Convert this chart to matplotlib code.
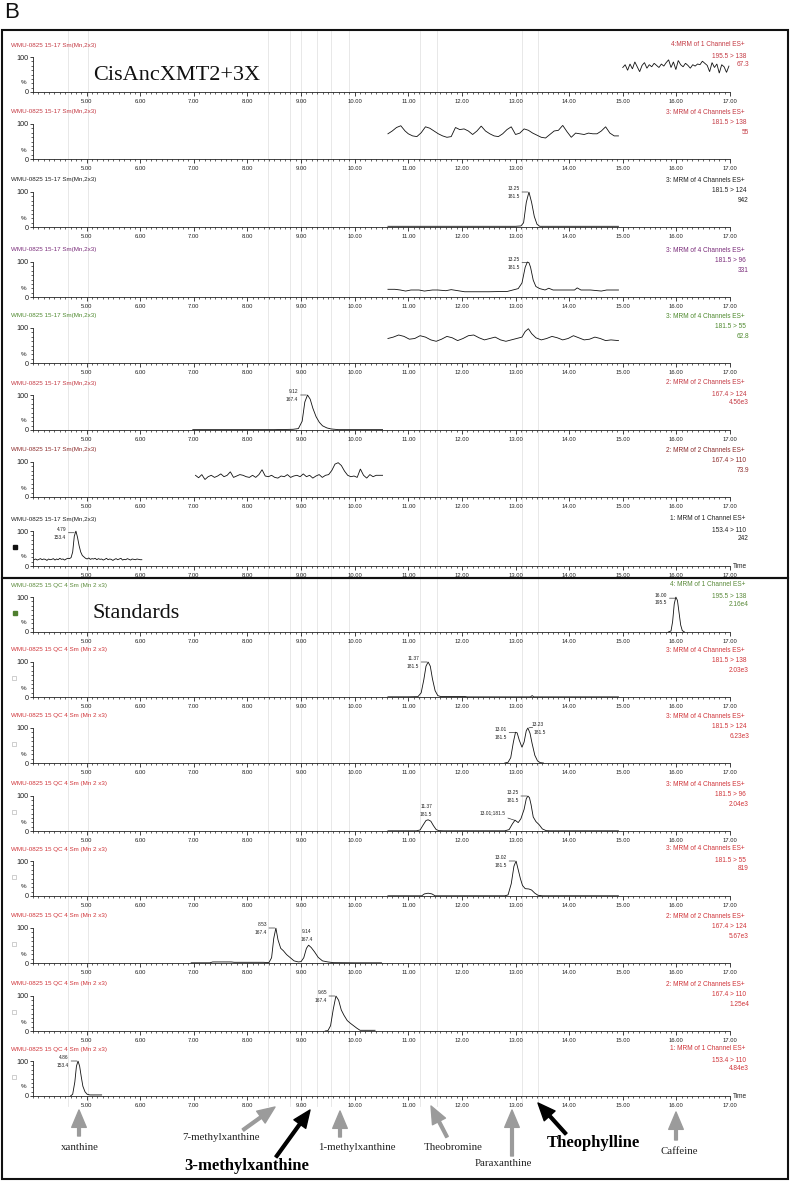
import numpy as np
import matplotlib
matplotlib.use("Agg")
import matplotlib.pyplot as plt
from matplotlib.patches import Rectangle
from matplotlib.transforms import blended_transform_factory
from matplotlib.ticker import FixedLocator, MultipleLocator

plt.rcParams['font.family'] = ['Liberation Sans', 'DejaVu Sans']

# ---------------------------------------------------------------- data
TIME_RANGE = (4.0, 17.0)
MAJOR_TIMES = [5, 6, 7, 8, 9, 10, 11, 12, 13, 14, 15, 16, 17]
MAJOR_LABELS = ['5.00', '6.00', '7.00', '8.00', '9.00', '10.00', '11.00',
                '12.00', '13.00', '14.00', '15.00', '16.00', '17.00']
GUIDE_TIMES = [4.65, 5.03, 8.38, 8.79, 9.00, 9.30, 9.56, 9.90, 11.22, 11.54, 13.12, 13.42]

TOP_HEADER = 'WMU-0825 15-17 Sm(Mn,2x3)'
BOT_HEADER = 'WMU-0825 15 QC 4 Sm (Mn 2 x3)'
TOP_TITLE = 'CisAncXMT2+3X'
BOT_TITLE = 'Standards'

TOP_CHANNELS = ['4:MRM of 1 Channel ES+', '3: MRM of 4 Channels ES+', '3: MRM of 4 Channels ES+',
                '3: MRM of 4 Channels ES+', '3: MRM of 4 Channels ES+', '2: MRM of 2 Channels ES+',
                '2: MRM of 2 Channels ES+', '1: MRM of 1 Channel ES+']
BOT_CHANNELS = ['4: MRM of 1 Channel ES+', "3: MRM of 4 Channels ES+", "3: MRM of 4 Channels ES+",
                "3: MRM of 4 Channels ES+", "3: MRM of 4 Channels ES+", "2: MRM of 2 Channels ES+",
                "2: MRM of 2 Channels ES+", '1: MRM of 1 Channel ES+']
TRANSITIONS = ['195.5 > 138', '181.5 > 138', '181.5 > 124', '181.5 > 96',
               '181.5 > 55', '167.4 > 124', '167.4 > 110', '153.4 > 110']
TOP_SCALES = ['67.3', '55', '942', '331', '62.8', '4.56e3', '73.9', '242']
BOT_SCALES = ['2.16e4', '2.03e3', '6.23e3', '2.04e3', '819', '5.67e3', '1.25e4', '4.84e3']

# --- sample (top panel)
T1_range = (15.0, 16.98)
T1_v = [70, 78, 62, 80, 66, 86, 72, 58, 76, 84, 68, 78, 72, 82, 76, 70, 80, 74, 84, 92,
        70, 86, 64, 90, 78, 72, 82, 76, 68, 78, 74, 80, 78, 88, 82, 76, 58, 84, 70, 80,
        54, 78, 72, 56, 74]

T2_t = [10.62, 10.70, 10.78, 10.86, 10.94, 11.00, 11.08, 11.16, 11.24, 11.32, 11.40, 11.48,
        11.56, 11.64, 11.72, 11.80, 11.88, 11.96, 12.04, 12.12, 12.20, 12.28, 12.36, 12.44,
        12.52, 12.60, 12.68, 12.76, 12.84, 12.92, 13.00, 13.08, 13.16, 13.24, 13.32, 13.40,
        13.48, 13.56, 13.64, 13.72, 13.80, 13.88, 13.96, 14.04, 14.12, 14.20, 14.28, 14.36,
        14.44, 14.52, 14.60, 14.68, 14.76, 14.84, 14.92]
T2_v = [72, 80, 90, 95, 80, 72, 66, 64, 75, 92, 88, 80, 72, 66, 62, 64, 90, 84, 86, 80,
        70, 80, 94, 80, 72, 66, 64, 72, 84, 92, 70, 74, 86, 82, 74, 68, 62, 60, 70, 80,
        82, 96, 78, 62, 74, 72, 70, 74, 72, 72, 80, 92, 74, 66, 66]

T3_t = [10.62, 11.0, 11.5, 12.0, 12.5, 13.00, 13.10, 13.15, 13.20, 13.25, 13.30, 13.35,
        13.40, 13.45, 13.55, 14.0, 14.5, 14.92]
T3_v = [2, 2, 2, 2, 2, 2, 3, 12, 70, 100, 70, 30, 8, 2, 2, 2, 2, 2]

T4_t = [10.62, 10.75, 10.85, 10.95, 11.05, 11.20, 11.30, 11.45, 11.55, 11.70, 11.80, 12.05,
        12.50, 12.85, 12.95, 13.05, 13.12, 13.18, 13.22, 13.25, 13.28, 13.33, 13.38, 13.45,
        13.55, 13.62, 13.70, 13.90, 14.10, 14.15, 14.22, 14.40, 14.60, 14.70, 14.92]
T4_v = [22, 22, 20, 17, 20, 20, 17, 20, 20, 18, 21, 15, 15, 16, 20, 24, 40, 85, 100, 98,
        85, 48, 30, 24, 20, 25, 20, 20, 20, 26, 20, 20, 17, 20, 20]

T5_t = [10.62, 10.72, 10.82, 10.92, 11.02, 11.12, 11.22, 11.32, 11.42, 11.52, 11.62, 11.72,
        11.82, 11.92, 12.02, 12.12, 12.22, 12.32, 12.42, 12.52, 12.62, 12.72, 12.82, 12.92,
        13.02, 13.12, 13.18, 13.24, 13.30, 13.38, 13.48, 13.58, 13.68, 13.78, 13.88, 13.98,
        14.08, 14.18, 14.28, 14.38, 14.48, 14.58, 14.68, 14.78, 14.92]
T5_v = [70, 74, 80, 76, 68, 70, 78, 74, 66, 62, 68, 76, 72, 64, 70, 78, 80, 72, 66, 70,
        74, 66, 62, 66, 70, 74, 90, 98, 84, 72, 66, 70, 76, 72, 66, 70, 78, 72, 66, 68,
        74, 70, 64, 66, 64]

T6_t = [6.98, 7.5, 8.0, 8.5, 8.85, 8.95, 9.02, 9.07, 9.12, 9.17, 9.22, 9.28, 9.34, 9.40,
        9.48, 9.56, 9.70, 10.0, 10.52]
T6_v = [1, 1, 1, 1, 2, 4, 25, 80, 100, 88, 62, 38, 22, 12, 6, 3, 1, 1, 1]

T7_range = (7.03, 10.52)
T7_v = [62, 55, 64, 50, 58, 62, 56, 60, 66, 58, 62, 72, 56, 60, 64, 62, 58, 56, 62, 56,
        64, 78, 60, 58, 62, 56, 54, 60, 58, 64, 56, 60, 62, 58, 66, 58, 62, 54, 60, 64,
        56, 62, 64, 76, 94, 98, 90, 74, 62, 58, 60, 56, 80, 62, 54, 64, 58, 62, 62, 62]

T8_range = (4.02, 6.03)
T8_v = [18, 20, 17, 19, 21, 18, 20, 19, 16, 20, 18, 19, 21, 17, 20, 18, 22, 19, 20, 17,
        20, 22, 21, 24, 40, 85, 100, 82, 58, 40, 30, 26, 22, 20, 23, 19, 21, 20, 22, 18,
        21, 19, 20, 17, 19, 22, 18, 20, 19, 16, 19, 21, 18, 20, 22, 17, 19, 18, 21, 19,
        17, 20, 19, 18, 20, 19, 18, 18]

# --- standards (bottom panel)
B1_t = [15.85, 15.90, 15.93, 15.96, 15.99, 16.02, 16.05, 16.08, 16.11, 16.15]
B1_v = [0, 3, 30, 80, 100, 90, 55, 20, 4, 0]

B2_t = [10.62, 11.0, 11.18, 11.24, 11.29, 11.33, 11.37, 11.41, 11.45, 11.50, 11.55, 11.60,
        11.70, 12.05, 12.10, 13.28, 13.31, 13.34, 14.92]
B2_v = [0.5, 0.5, 1, 12, 50, 88, 100, 88, 52, 18, 4, 1.5, 1.5, 1.5, 0.3, 0.3, 4, 0.3, 0.3]

B3_t = [12.80, 12.86, 12.91, 12.96, 13.00, 13.03, 13.07, 13.12, 13.16, 13.20, 13.23, 13.27,
        13.31, 13.36, 13.41, 13.46, 13.52]
B3_v = [0, 2, 15, 60, 88, 86, 65, 45, 60, 92, 100, 85, 55, 22, 6, 1, 0]

B4_t = [10.62, 11.15, 11.22, 11.28, 11.33, 11.37, 11.42, 11.47, 11.52, 11.57, 11.65, 12.80,
        12.88, 12.94, 12.99, 13.05, 13.10, 13.16, 13.20, 13.23, 13.26, 13.29, 13.33, 13.38,
        13.44, 13.50, 13.57, 13.65, 14.92]
B4_v = [0.5, 0.5, 3, 18, 30, 32, 28, 15, 4, 1, 0.5, 0.5, 4, 20, 31, 24, 35, 62, 92, 100,
        95, 75, 40, 27, 18, 6, 1, 0.5, 0.5]

B5_t = [10.62, 11.25, 11.30, 11.37, 11.44, 11.50, 12.80, 12.86, 12.92, 12.97, 13.01, 13.05,
        13.09, 13.13, 13.18, 13.25, 13.30, 13.36, 13.42, 13.50, 14.92]
B5_v = [0.5, 0.5, 6, 8, 6, 0.5, 0.5, 3, 35, 85, 100, 75, 50, 30, 21, 20, 17, 8, 2, 0.5, 0.5]

B6_t = [6.95, 7.30, 7.35, 7.70, 7.75, 8.30, 8.40, 8.45, 8.49, 8.53, 8.57, 8.62, 8.67, 8.73,
        8.80, 8.87, 8.95, 9.00, 9.05, 9.10, 9.14, 9.19, 9.25, 9.32, 9.40, 9.50, 9.60, 10.0, 10.50]
B6_v = [0.5, 0.5, 3, 3, 2, 2, 1, 15, 70, 100, 66, 42, 35, 24, 15, 6, 3, 4, 15, 42,
        51, 44, 32, 16, 6, 3, 1, 0.5, 0.5]

B7_t = [9.45, 9.50, 9.55, 9.60, 9.65, 9.70, 9.75, 9.80, 9.86, 9.92, 9.98, 10.04, 10.10,
        10.20, 10.38]
B7_v = [0, 1, 15, 62, 100, 88, 60, 45, 30, 22, 15, 8, 2, 2, 2]

B8_t = [4.70, 4.74, 4.78, 4.81, 4.84, 4.87, 4.90, 4.93, 4.97, 5.01, 5.06, 5.28]
B8_v = [0, 5, 40, 85, 100, 85, 55, 28, 12, 5, 3, 3]

# peak annotations: (time, line 1, line 2, placement)
TOP_PEAKS = [[], [], [(13.25, '13.25', '181.5', 'left')], [(13.25, '13.25', '181.5', 'left')],
             [], [(9.12, '9.12', '167.4', 'left')], [], [(4.79, '4.79', '153.4', 'left')]]
BOT_PEAKS = [[(16.00, '16.00', '195.5', 'left')],
             [(11.37, '11.37', '181.5', 'left')],
             [(13.01, '13.01', '181.5', 'left'), (13.23, '13.23', '181.5', 'right')],
             [(11.37, '11.37', '181.5', 'above'), (13.00, '13.01;181.5', '', 'leader'),
              (13.23, '13.25', '181.5', 'left')],
             [(13.01, '13.02', '181.5', 'left')],
             [(8.53, '8.53', '167.4', 'left'), (9.14, '9.14', '167.4', 'above')],
             [(9.65, '9.65', '167.4', 'left')],
             [(4.84, '4.86', '153.4', 'left')]]

COMPOUNDS = ['xanthine', '7-methylxanthine', '3-methylxanthine', '1-methylxanthine',
             'Theobromine', 'Paraxanthine', 'Theophylline', 'Caffeine']
HIGHLIGHT = [False, False, True, False, False, False, True, False]

# ---------------------------------------------------------------- layout
W, H = 790, 1182
AX_L, AX_R, AX_H = 33, 730, 35
TOP_BASE = [92, 159, 227, 297, 363, 430, 497, 566]
BOT_BASE = [632, 697, 763, 831, 896, 963, 1031, 1096]
RED = '#c43a44'
DARKRED = '#8c2c2c'
PURPLE = '#7a2c7a'
GREEN = '#4f8a2f'
BLACK = '#222222'
TOP_COLORS = [RED, RED, BLACK, PURPLE, GREEN, RED, DARKRED, BLACK]
BOT_COLORS = ['#5a8a3a'] + ['#d0353a'] * 7
ARROW_TAILS = [(79, 1136), (243, 1130), (276, 1157), (340, 1137), (447, 1137), (512, 1156), (566, 1134), (676, 1140)]
ARROW_HEADS = [(79, 1110), (275, 1107), (310, 1110), (340, 1111), (431, 1106), (512, 1110), (538, 1103), (676, 1112)]
LABEL_POS = [(80, 1148), (221, 1138), (247, 1166), (357, 1148), (453, 1147), (503, 1163), (593, 1143), (679, 1152)]

fig = plt.figure(figsize=(W / 100, H / 100), dpi=100)
bg = fig.add_axes([0, 0, 1, 1], zorder=0)
bg.set_xlim(0, W)
bg.set_ylim(H, 0)
bg.axis('off')


def trace_axes(base):
    ax = fig.add_axes([AX_L / W, 1 - base / H, (AX_R - AX_L) / W, AX_H / H], zorder=2)
    ax.set_xlim(*TIME_RANGE)
    ax.set_ylim(0, 100)
    ax.patch.set_visible(False)
    for s in ('top', 'right'):
        ax.spines[s].set_visible(False)
    for s in ('left', 'bottom'):
        ax.spines[s].set_linewidth(0.6)
        ax.spines[s].set_color('#222222')
    ax.set_xticks(MAJOR_TIMES)
    ax.set_xticklabels(MAJOR_LABELS)
    ax.xaxis.set_minor_locator(MultipleLocator(0.1))
    ax.set_yticks([0, 100])
    ax.set_yticklabels(['0', '100'])
    ax.yaxis.set_minor_locator(MultipleLocator(12.5))
    ax.tick_params(axis='x', which='major', direction='out', length=2.6, width=0.6,
                   pad=2.6, labelsize=4.2, colors='#222222')
    ax.tick_params(axis='x', which='minor', direction='out', length=1.4, width=0.5, colors='#222222')
    ax.tick_params(axis='y', which='major', direction='out', length=2.4, width=0.6,
                   pad=0.6, labelsize=5.2, colors='#222222')
    ax.tick_params(axis='y', which='minor', direction='out', length=1.2, width=0.5, colors='#222222')
    return ax


def label_peaks(ax, t, v, peaks):
    for (pt, l1, l2, mode) in peaks:
        py = float(np.interp(pt, t, v))
        kw = dict(xy=(pt, py), textcoords='offset points', fontsize=3.5, color='#222222',
                  annotation_clip=False, va='center')
        dash = dict(arrowstyle='-', lw=0.45, color='#222222', shrinkA=0, shrinkB=0)
        if mode == 'left':
            ax.annotate(l1, xytext=(-6.5, 2.2), ha='right', **kw)
            ax.annotate(l2, xytext=(-6.5, -3.4), ha='right', **kw)
            ax.annotate('', xy=(pt, py), xytext=(-5, 0), textcoords='offset points',
                        arrowprops=dict(dash, shrinkB=0.8), annotation_clip=False)
        elif mode == 'right':
            ax.annotate(l1, xytext=(3.0, 2.2), ha='left', **kw)
            ax.annotate(l2, xytext=(4.0, -3.4), ha='left', **kw)
            ax.annotate('', xy=(pt, py), xytext=(3.5, 0.5), textcoords='offset points',
                        arrowprops=dict(dash, shrinkB=0.8), annotation_clip=False)
        elif mode == 'above':
            ax.annotate(l1, xytext=(-1.5, 9.5), ha='center', **kw)
            ax.annotate(l2, xytext=(-1.5, 4.0), ha='center', **kw)
        elif mode == 'leader':
            ax.annotate(l1, xytext=(-7.5, 5.5), ha='right', arrowprops=dash, **kw)


def draw_panel(bases, traces, peaks, header, channels, scales, colors):
    axes = []
    for i, base in enumerate(bases):
        ax = trace_axes(base)
        t, v = traces[i]
        ax.plot(t, v, color='#111111', lw=0.6, clip_on=False, solid_joinstyle='miter')
        label_peaks(ax, t, v, peaks[i])
        c = colors[i]
        bg.text(11, base - 47, header, fontsize=4.5, color=c, ha='left', va='center')
        bg.text(745, base - 47, channels[i], fontsize=4.7, color=c, ha='right', va='center')
        bg.text(746, base - 36, TRANSITIONS[i], fontsize=4.7, color=c, ha='right', va='center')
        bg.text(749, base - 27, scales[i], fontsize=4.7, color=c, ha='right', va='center')
        bg.text(24, base - 9, '%', fontsize=4.5, color='#222222', ha='center', va='center')
        axes.append(ax)
    bg.text(733, bases[-1], 'Time', fontsize=4.7, color='#222222', ha='left', va='center')
    return axes


TOP_TRACES = [(np.linspace(*T1_range, len(T1_v)), T1_v), (T2_t, T2_v), (T3_t, T3_v),
              (T4_t, T4_v), (T5_t, T5_v), (T6_t, T6_v),
              (np.linspace(*T7_range, len(T7_v)), T7_v),
              (np.linspace(*T8_range, len(T8_v)), T8_v)]
BOT_TRACES = [(B1_t, B1_v), (B2_t, B2_v), (B3_t, B3_v), (B4_t, B4_v),
              (B5_t, B5_v), (B6_t, B6_v), (B7_t, B7_v), (B8_t, B8_v)]

top_axes = draw_panel(TOP_BASE, TOP_TRACES, TOP_PEAKS, TOP_HEADER, TOP_CHANNELS,
                      TOP_SCALES, TOP_COLORS)
bot_axes = draw_panel(BOT_BASE, BOT_TRACES, BOT_PEAKS, BOT_HEADER, BOT_CHANNELS,
                      BOT_SCALES, BOT_COLORS)

# light vertical guide lines through all traces
guide_tf = blended_transform_factory(top_axes[0].transData, bg.transData)
for gt in GUIDE_TIMES:
    bg.plot([gt, gt], [31, 1106], transform=guide_tf, color='#e4e4e4', lw=0.6,
            zorder=0, clip_on=False)

# channel markers on the left
bg.plot([15], [TOP_BASE[7] - 19], marker='s', ms=3.2, color='#111111', ls='none')
bg.plot([15], [BOT_BASE[0] - 19], marker='s', ms=3.2, color='#4f7f2f', ls='none')
for b in BOT_BASE[1:]:
    bg.plot([14], [b - 19], marker='s', ms=3.2, mfc='none', mec='#bbbbbb', mew=0.5, ls='none')

# panel frames and titles
bg.add_patch(Rectangle((2, 30), 786, 548, fill=False, lw=1.5, ec='#111111', zorder=3))
bg.add_patch(Rectangle((2, 578), 786, 601, fill=False, lw=1.5, ec='#111111', zorder=3))
bg.text(4, 13, 'B', fontsize=16, ha='left', va='center', color='#111111')
bg.text(93, 75, TOP_TITLE, fontsize=16, family='Liberation Serif', ha='left', va='center',
        color='#111111')
bg.text(93, 614, BOT_TITLE, fontsize=16, family='Liberation Serif', ha='left', va='center',
        color='#111111')

# compound arrows and names
for name, hl, tail, head, pos in zip(COMPOUNDS, HIGHLIGHT, ARROW_TAILS, ARROW_HEADS, LABEL_POS):
    col = '#000000' if hl else '#9b9b9b'
    bg.annotate('', xy=head, xytext=tail,
                arrowprops=dict(arrowstyle='simple,head_length=1.25,head_width=1.05,tail_width=0.2',
                                color=col, mutation_scale=10, shrinkA=0, shrinkB=0))
    if hl:
        bg.text(pos[0], pos[1], name, fontsize=12, fontweight='bold', family='Liberation Serif',
                ha='center', va='center', color='#000000')
    else:
        bg.text(pos[0], pos[1], name, fontsize=7.8, family='Liberation Serif',
                ha='center', va='center', color='#222222')

fig.savefig('out.png', dpi=100)
